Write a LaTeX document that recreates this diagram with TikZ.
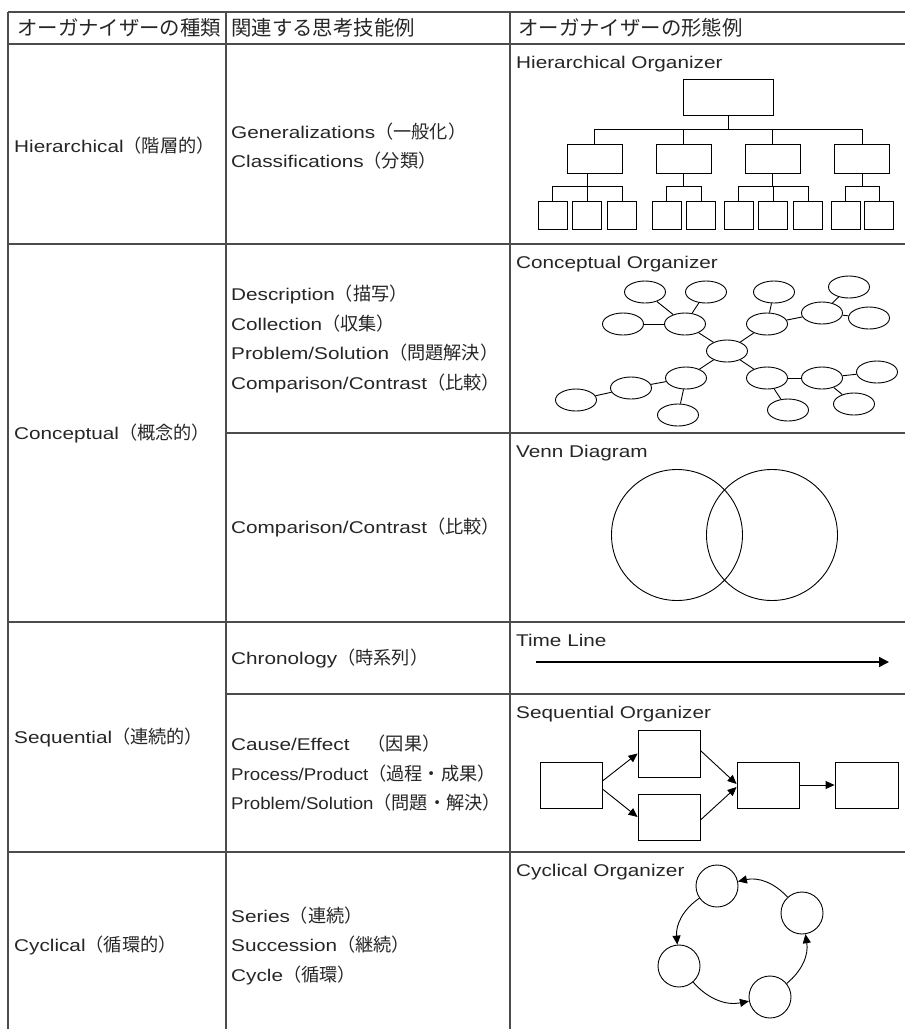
\documentclass[tikz,border=0pt]{standalone}
\usepackage{fontspec}
\setmainfont{Liberation Sans}[FakeStretch=1.22]
\newfontfamily\jpfont{Noto Sans CJK JP}
\newfontfamily\jpbody{Noto Sans CJK JP}[Scale=1.07]
\newfontfamily\narrowfont{Liberation Sans}[FakeStretch=1.1]
\newcommand\jp[1]{{\jpbody #1}}
\usetikzlibrary{positioning}
\usetikzlibrary{shapes.geometric}
\usetikzlibrary{arrows.meta}

\begin{document}
\begin{tikzpicture}[
        x = 1pt, y = -1pt,
        rule/.style = {line width = 1.4pt, black!70},
        head/.style = {anchor = west, inner sep = 0pt, text = black!85, font = \fontsize{20.4}{24}\jpfont},
        cell/.style = {anchor = west, align = left, inner sep = 0pt, text = black!85, font = \fontsize{17}{29.5}\selectfont},
        title/.style = {anchor = base west, inner sep = 0pt, text = black!85, font = \fontsize{17}{20}\selectfont},
        box/.style 2 args = {
            draw,
            rectangle,
            minimum width = #1,
            minimum height = #2,
            inner sep = 0pt,
            line width = 0.9pt
        },
        bubble/.style = {draw, ellipse, minimum width = 41pt, minimum height = 22pt, inner sep = 0pt, line width = 0.9pt},
        ring/.style = {draw, circle, minimum size = #1, inner sep = 0pt, line width = 0.9pt},
        ring/.default = 42pt,
        link/.style = {line width = 0.9pt},
        flow/.style = {line width = 0.9pt, -{Triangle[length = 9pt, width = 8pt]}}
        ]
        \useasboundingbox (0,0) rectangle (905,1029);
%
        \draw[rule] (8,12) -- (905,12);
        \draw[rule] (8,44) -- (905,44);
        \draw[rule] (8,244) -- (905,244);
        \draw[rule] (226,433) -- (905,433);
        \draw[rule] (8,622) -- (905,622);
        \draw[rule] (226,694) -- (905,694);
        \draw[rule] (8,852) -- (905,852);
        \foreach \x in {8, 226, 510}
            \draw[rule] (\x,12) -- (\x,1029);
%
        \node[head] (h1) at (17,28) {オーガナイザーの種類};
        \node[head] (h2) at (231,28) {関連する思考技能例};
        \node[head] (h3) at (518,28) {オーガナイザーの形態例};
%
        \node[cell] (kind1) at (14,146) {Hierarchical\jp{（階層的）}};
        \node[cell] (kind2) at (14,433) {Conceptual\jp{（概念的）}};
        \node[cell] (kind3) at (14,737) {Sequential\jp{（連続的）}};
        \node[cell] (kind4) at (14,945) {Cyclical\jp{（循環的）}};
%
        \node[cell] (skill1) at (231,146) {Generalizations\jp{（一般化）}\\Classifications\jp{（分類）}};
        \node[cell] (skill2) at (231,339) {Description\jp{（描写）}\\Collection\jp{（収集）}\\Problem/Solution\jp{（問題解決）}\\Comparison/Contrast\jp{（比較）}};
        \node[cell] (skill3) at (231,527) {Comparison/Contrast\jp{（比較）}};
        \node[cell] (skill4) at (231,658) {Chronology\jp{（時系列）}};
        \node[cell] (skill5) at (231,773.5) {Cause/Effect\jp{　（因果）}\\{\narrowfont Process/Product}\jp{（過程・成果）}\\{\narrowfont Problem/Solution}\jp{（問題・解決）}};
        \node[cell] (skill6) at (231,945.5) {Series\jp{（連続）}\\Succession\jp{（継続）}\\Cycle\jp{（循環）}};
%
        \node[title] (t1) at (516,68) {Hierarchical Organizer};
        \node[title] (t2) at (516,268) {Conceptual Organizer};
        \node[title] (t3) at (516,457) {Venn Diagram};
        \node[title] (t4) at (516,646) {Time Line};
        \node[title] (t5) at (516,718) {Sequential Organizer};
        \node[title] (t6) at (516,876) {Cyclical Organizer};
%
% hierarchy
        \node[box={90pt}{36pt}] (top) at (728,97) {};
        \node[box={55pt}{29pt}] (m1) at (594.5,158.5) {};
        \node[box={55pt}{29pt}] (m2) at (683.5,158.5) {};
        \node[box={55pt}{29pt}] (m3) at (772.5,158.5) {};
        \node[box={55pt}{29pt}] (m4) at (862,158.5) {};
%
        \node[box={29pt}{28pt}] (a1) at (552.5,215) {};
        \node[box={29pt}{28pt}, right=5pt of a1] (a2) {};
        \node[box={29pt}{28pt}, right=5pt of a2] (a3) {};
        \node[box={29pt}{28pt}] (b1) at (666.5,215) {};
        \node[box={29pt}{28pt}, right=5pt of b1] (b2) {};
        \node[box={29pt}{28pt}] (c1) at (738.5,215) {};
        \node[box={29pt}{28pt}, right=5pt of c1] (c2) {};
        \node[box={29pt}{28pt}, right=5pt of c2] (c3) {};
        \node[box={29pt}{28pt}] (d1) at (845.5,215) {};
        \node[box={29pt}{28pt}, right=4pt of d1] (d2) {};
%
        \foreach \m in {m1, m2, m3, m4}
            \draw[link] (top.south) -- ++(0,14) -| (\m.north);
        \foreach \c in {a1, a2, a3}
            \draw[link] (a2 |- m1.south) -- ++(0,13) -| (\c.north);
        \foreach \c in {b1, b2}
            \draw[link] (m2.south) -- ++(0,13) -| (\c.north);
        \foreach \c in {c1, c2, c3}
            \draw[link] (m3.south) -- ++(0,13) -| (\c.north);
        \foreach \c in {d1, d2}
            \draw[link] (m4.south) -- ++(0,13) -| (\c.north);
%
% concept map
        \node[bubble] (core) at (727,351) {};
        \node[bubble] (nw) at (685,324) {};
        \node[bubble] (nwL) at (623,324) {};
        \node[bubble] (nwA) at (645,292) {};
        \node[bubble] (nwB) at (706,292) {};
        \node[bubble] (ne) at (767,324) {};
        \node[bubble] (neA) at (774,292) {};
        \node[bubble] (ne2) at (822,313) {};
        \node[bubble] (ne2A) at (849,287) {};
        \node[bubble] (ne2B) at (869,318) {};
        \node[bubble] (sw) at (686,378) {};
        \node[bubble] (sw2) at (631,388) {};
        \node[bubble] (sw2A) at (576,400) {};
        \node[bubble] (swA) at (678,415) {};
        \node[bubble] (se) at (767,378) {};
        \node[bubble] (se2) at (822,378) {};
        \node[bubble] (se2A) at (877,372) {};
        \node[bubble] (se2B) at (854,404) {};
        \node[bubble] (seA) at (788,410) {};
%
        \foreach \a/\b in {core/nw, core/ne, core/sw, core/se, nw/nwL, nw/nwA, nw/nwB,
                           ne/neA, ne/ne2, ne2/ne2A, ne2/ne2B, sw/sw2, sw/swA, sw2/sw2A,
                           se/se2, se/seA, se2/se2A, se2/se2B}
            \draw[link] (\a) -- (\b);
%
% venn
        \node[ring=131pt] (setA) at (677,535) {};
        \node[ring=131pt] (setB) at (772,535) {};
%
% time line
        \coordinate (tl0) at (536,662);
        \coordinate (tl1) at (889,662);
        \draw[flow, line width = 1.6pt, -{Triangle[length = 10pt, width = 10pt]}] (tl0) -- (tl1);
%
% sequence
        \node[box={62pt}{46pt}] (s1) at (571,785) {};
        \node[box={62pt}{47pt}] (s2) at (669,753.5) {};
        \node[box={62pt}{46pt}] (s3) at (669,817) {};
        \node[box={62pt}{46pt}] (s4) at (768,785) {};
        \node[box={63pt}{46pt}] (s5) at (866.5,785) {};
%
        \draw[flow] ([yshift=4pt]s1.east) -- (s2.west);
        \draw[flow] ([yshift=-4pt]s1.east) -- (s3.west);
        \draw[flow] ([yshift=3pt]s2.east) -- ([yshift=1pt]s4.west);
        \draw[flow] ([yshift=-3pt]s3.east) -- ([yshift=-2pt]s4.west);
        \draw[flow] (s4.east) -- (s5.west);
%
% cycle
        \node[ring] (r1) at (717,886) {};
        \node[ring] (r2) at (802,913) {};
        \node[ring] (r3) at (679,966) {};
        \node[ring] (r4) at (770,997) {};
%
        \draw[flow] (r2) to[bend right=30] (r1);
        \draw[flow] (r1) to[bend right=30] (r3);
        \draw[flow] (r3) to[bend right=30] (r4);
        \draw[flow] (r4) to[bend right=30] (r2);
\end{tikzpicture}
\end{document}
